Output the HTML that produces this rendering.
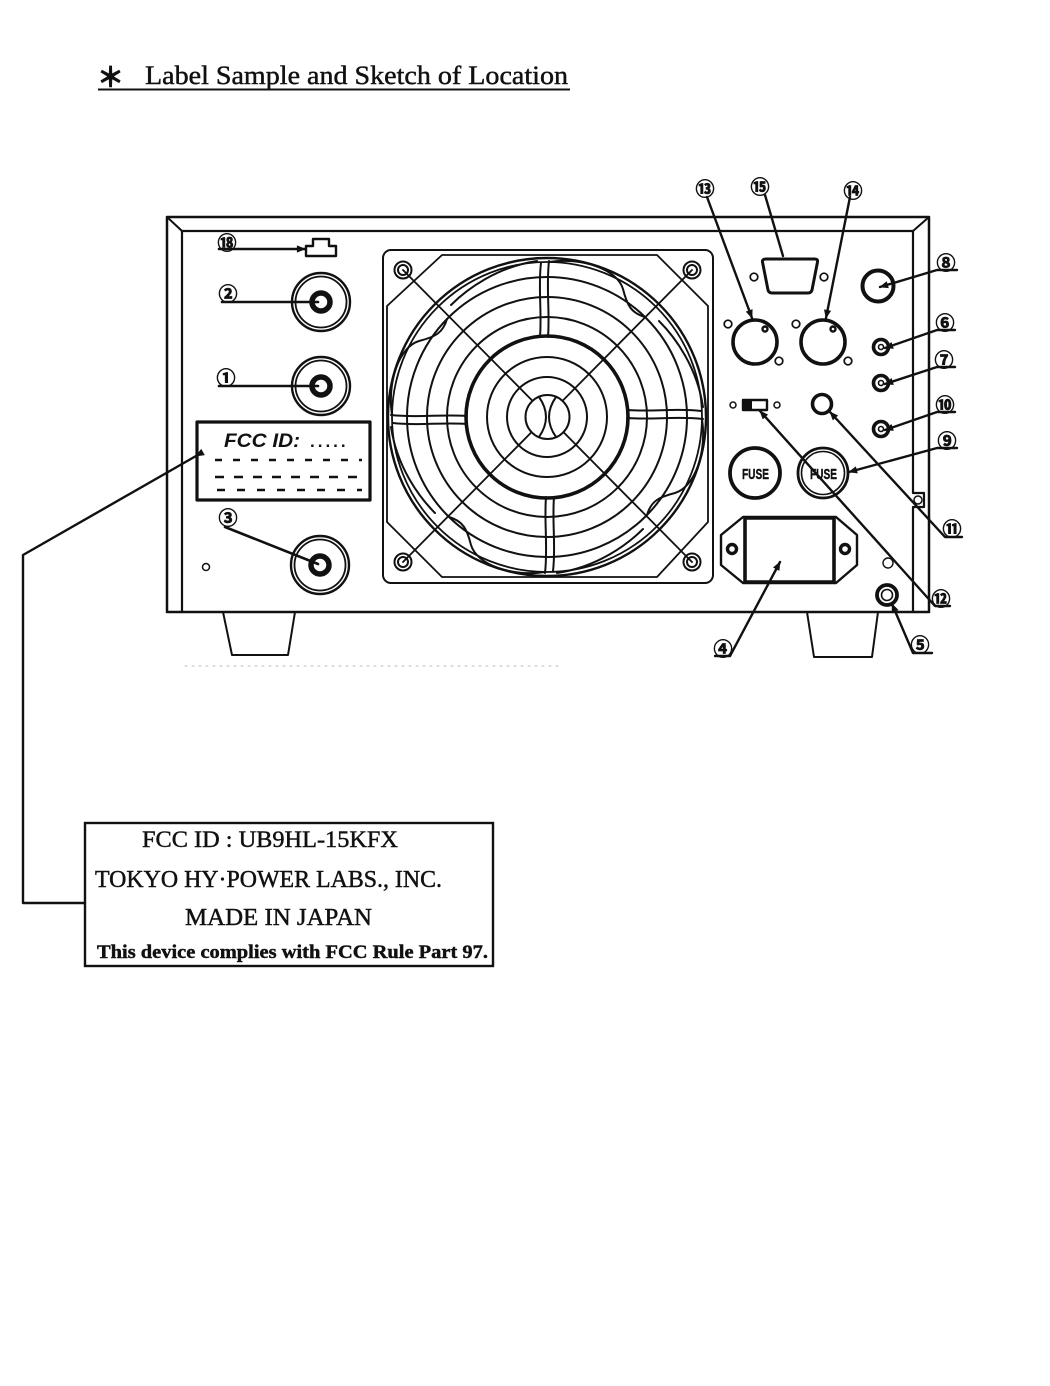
<!DOCTYPE html>
<html><head><meta charset="utf-8">
<style>
html,body{margin:0;padding:0;background:#fff;}
svg{display:block;}
.n{font-family:"Noto Sans CJK JP","DejaVu Sans",sans-serif;font-size:19px;font-weight:bold;text-anchor:middle;dominant-baseline:central;fill:#111;stroke:#111;stroke-width:0.7;}
.s{font-family:"Liberation Serif",serif;fill:#111;stroke:#111;stroke-width:0.45;}
</style></head>
<body>
<svg width="1050" height="1386" viewBox="0 0 1050 1386" xmlns="http://www.w3.org/2000/svg">
<defs>
<marker id="a" viewBox="0 0 10 10" refX="9" refY="5" markerWidth="11" markerHeight="9" markerUnits="userSpaceOnUse" orient="auto"><path d="M0,1 L10,5 L0,9 Z" fill="#111"/></marker>
</defs>
<rect width="1050" height="1386" fill="#fff"/>

<!-- Title -->
<text x="97" y="87" font-family="'Noto Sans CJK JP',sans-serif" font-size="27" font-weight="bold" fill="#111" stroke="#111" stroke-width="0.8">＊</text>
<text class="s" x="145" y="84" font-size="26" textLength="423" lengthAdjust="spacingAndGlyphs">Label Sample and Sketch of Location</text>
<line x1="98" y1="89.5" x2="570" y2="89.5" stroke="#111" stroke-width="2"/>

<g fill="none" stroke="#111" stroke-linecap="round" stroke-linejoin="round">
<!-- Chassis -->
<path d="M167,217 H929 V612 H167 Z" stroke-width="2.5"/>
<path d="M182,612 V231 H913 V493 H924 V507 H913 V612" stroke-width="2.2"/>
<line x1="167" y1="217" x2="182" y2="231" stroke-width="2"/>
<line x1="929" y1="217" x2="913" y2="231" stroke-width="2"/>
<circle cx="918" cy="500" r="4" stroke-width="1.5"/>
<!-- feet -->
<path d="M223,612 L232,655 H288 L295,612" stroke-width="2"/>
<path d="M807,612 L814,657 H872 L878,612" stroke-width="2"/>
<line x1="185" y1="666" x2="560" y2="666" stroke="#bbb" stroke-width="1" stroke-dasharray="2,5"/>

<!-- Left panel -->
<path d="M306,256 V246 H313 V239 H329 V246 H336 V256 Z" stroke-width="2.4"/>
<line x1="219" y1="249" x2="305" y2="249" stroke-width="2.6" marker-end="url(#a)"/>
<!-- 2 -->
<circle cx="321" cy="302" r="29" stroke-width="2.4"/>
<circle cx="321" cy="302" r="25.5" stroke-width="1.8"/>
<circle cx="321" cy="302" r="9" stroke-width="5.5"/>
<line x1="222" y1="302" x2="318" y2="302" stroke-width="2.6"/>
<!-- 1 -->
<circle cx="321" cy="386" r="29" stroke-width="2.4"/>
<circle cx="321" cy="386" r="25.5" stroke-width="1.8"/>
<circle cx="321" cy="386" r="9" stroke-width="5.5"/>
<line x1="219" y1="386" x2="318" y2="386" stroke-width="2.6"/>
<!-- 3 -->
<circle cx="320" cy="565" r="29" stroke-width="2.4"/>
<circle cx="320" cy="565" r="25.5" stroke-width="1.8"/>
<circle cx="320" cy="565" r="9" stroke-width="5.5"/>
<line x1="225" y1="527" x2="318" y2="564" stroke-width="2.6"/>
<circle cx="206" cy="567" r="3.5" stroke-width="1.5"/>
<!-- FCC label sample -->
<rect x="197" y="422" width="173" height="78" stroke-width="3.2"/>
<g stroke-width="2.4" stroke-linecap="butt">
<line x1="215" y1="460" x2="362" y2="460" stroke-dasharray="7,11"/>
<line x1="215" y1="477" x2="362" y2="477" stroke-dasharray="9,10"/>
<line x1="217" y1="490" x2="362" y2="490" stroke-dasharray="8,12"/>
</g>
<!-- callout to bottom label -->
<path d="M196,456 L23,555 V903 H85" stroke-width="2.4" marker-start="url(#a)"/>

<!-- Fan -->
<rect x="383" y="250" width="330" height="333" rx="8" stroke-width="2"/>
<polygon points="442,255 657,255 708,306 708,522 657,577 442,577 387,522 387,306" stroke-width="1.8"/>
<g stroke-width="2">
<circle cx="403" cy="270" r="8.5"/><circle cx="403" cy="270" r="5"/>
<circle cx="692" cy="270" r="8.5"/><circle cx="692" cy="270" r="5"/>
<circle cx="403" cy="562" r="8.5"/><circle cx="403" cy="562" r="5"/>
<circle cx="692" cy="562" r="8.5"/><circle cx="692" cy="562" r="5"/>
</g>
<g transform="translate(547,417)">
<circle r="159" stroke-width="2.4"/>
<circle r="155" stroke-width="1.8"/>
<circle r="140" stroke-width="2"/>
<circle r="120" stroke-width="2"/>
<circle r="100" stroke-width="2"/>
<circle r="81" stroke-width="3.6"/>
<circle r="60" stroke-width="2"/>
<circle r="40" stroke-width="2"/>
<g id="bl" stroke-width="2">
<path d="M-7,-80 C-5,-105 -9,-130 -6,-154"/>
<path d="M1,-80 C3,-105 -1,-130 2,-156"/>
<path d="M2,-155 C35,-160 70,-148 76,-128 C80,-112 84,-104 98,-100"/>
<path d="M-96,-112 C-80,-128 -50,-150 -10,-156"/>
</g>
<use href="#bl" transform="rotate(90)"/>
<use href="#bl" transform="rotate(180)"/>
<use href="#bl" transform="rotate(270)"/>
</g>
<line x1="403" y1="270" x2="692" y2="562" stroke-width="1.8"/>
<line x1="692" y1="270" x2="403" y2="562" stroke-width="1.8"/>
<circle cx="547.5" cy="417" r="22" fill="#fff" stroke-width="2"/>
<path d="M539,397 Q553,417 539,437" stroke-width="2"/>
<path d="M556,397 Q542,417 556,437" stroke-width="2"/>

<!-- Right panel -->
<path d="M766,259 H815 Q818,259 817.5,262 L812,290 Q811,293 808,293 H772 Q769,293 768,290 L762.5,262 Q762,259 766,259 Z" stroke-width="3"/>
<circle cx="754" cy="277" r="3.8" stroke-width="1.7"/>
<circle cx="824" cy="277" r="3.8" stroke-width="1.7"/>
<!-- 13 -->
<circle cx="755" cy="342" r="22" stroke-width="3.6"/>
<circle cx="765" cy="329" r="2.5" stroke-width="2.4"/>
<circle cx="728" cy="324" r="3.8" stroke-width="1.7"/>
<circle cx="779" cy="361" r="3.8" stroke-width="1.7"/>
<!-- 14 -->
<circle cx="823" cy="342" r="22" stroke-width="3.6"/>
<circle cx="833" cy="329" r="2.5" stroke-width="2.4"/>
<circle cx="796" cy="324" r="3.8" stroke-width="1.7"/>
<circle cx="848" cy="361" r="3.8" stroke-width="1.7"/>
<!-- 8 -->
<circle cx="878" cy="286" r="15.5" stroke-width="4"/>
<!-- 6,7,10 -->
<circle cx="881" cy="347" r="7.5" stroke-width="3.6"/><circle cx="881" cy="347" r="2.5" stroke-width="1.6"/>
<circle cx="881" cy="383" r="7.5" stroke-width="3.6"/><circle cx="881" cy="383" r="2.5" stroke-width="1.6"/>
<circle cx="881" cy="429" r="7.5" stroke-width="3.6"/><circle cx="881" cy="429" r="2.5" stroke-width="1.6"/>
<!-- switch -->
<rect x="743" y="400" width="24" height="10" stroke-width="2.4"/>
<rect x="743" y="400" width="9" height="10" fill="#111" stroke="none"/>
<circle cx="733" cy="405" r="3" stroke-width="1.5"/>
<circle cx="777" cy="405" r="3" stroke-width="1.5"/>
<!-- 11 target -->
<circle cx="822" cy="404" r="9.5" stroke-width="3.6"/>
<!-- fuses -->
<circle cx="755" cy="473" r="25" stroke-width="3.8"/>
<circle cx="823" cy="473" r="25" stroke-width="2.8"/>
<circle cx="823" cy="473" r="21.5" stroke-width="1.6"/>
<!-- 4 inlet -->
<polygon points="743,517 836,517 857,535 857,565 836,583 743,583 721,565 721,535" stroke-width="2.4"/>
<rect x="745" y="518" width="89" height="64" stroke-width="3.6"/>
<circle cx="732" cy="549" r="4.5" stroke-width="3.4"/>
<circle cx="845" cy="549" r="4.5" stroke-width="3.4"/>
<!-- 5 -->
<circle cx="887" cy="595" r="10" stroke-width="3.8"/>
<circle cx="887" cy="595" r="5.5" stroke-width="1.6"/>
<circle cx="888" cy="563" r="5" stroke-width="1.4"/>

<!-- leaders right -->
<g stroke-width="2.4">
<line x1="707" y1="197" x2="752" y2="318" marker-end="url(#a)"/>
<line x1="765" y1="195" x2="783" y2="256"/>
<line x1="850" y1="197" x2="826" y2="318" marker-end="url(#a)"/>
<path d="M957,270 H937 L880,287" marker-end="url(#a)"/>
<path d="M955,330 H937 L885,348" marker-end="url(#a)"/>
<path d="M955,367 H937 L885,384" marker-end="url(#a)"/>
<path d="M955,412 H937 L885,430" marker-end="url(#a)"/>
<path d="M957,448 H937 L849,472" marker-end="url(#a)"/>
<path d="M962,537 H945 L830,412" marker-end="url(#a)"/>
<path d="M950,606 H935 L760,411" marker-end="url(#a)"/>
<path d="M715,656 H730 L780,562" marker-end="url(#a)"/>
<path d="M932,653 H913 L892,604" marker-end="url(#a)"/>
</g>
</g>

<!-- FCC sample text -->
<text x="224" y="447" font-family="'Liberation Sans',sans-serif" font-style="italic" font-weight="bold" font-size="19" fill="#111" textLength="76" lengthAdjust="spacingAndGlyphs">FCC ID:</text>
<text x="310" y="447" font-family="'Liberation Sans',sans-serif" font-weight="bold" font-size="17" fill="#111" letter-spacing="3">.....</text>

<!-- FUSE text -->
<text x="742" y="479" font-family="'Liberation Sans Narrow','Liberation Sans',sans-serif" font-weight="bold" font-size="15" fill="#111" stroke="#111" stroke-width="0.4" textLength="27" lengthAdjust="spacingAndGlyphs">FUSE</text>
<text x="810" y="479" font-family="'Liberation Sans Narrow','Liberation Sans',sans-serif" font-weight="bold" font-size="15" fill="#111" stroke="#111" stroke-width="0.4" textLength="27" lengthAdjust="spacingAndGlyphs">FUSE</text>

<!-- circled numbers -->
<text class="n" x="227" y="242">⑱</text>
<text class="n" x="228" y="293">②</text>
<text class="n" x="226" y="377">①</text>
<text class="n" x="228" y="517">③</text>
<text class="n" x="705" y="188">⑬</text>
<text class="n" x="760" y="186">⑮</text>
<text class="n" x="853" y="190">⑭</text>
<text class="n" x="946" y="262">⑧</text>
<text class="n" x="945" y="322">⑥</text>
<text class="n" x="944" y="359">⑦</text>
<text class="n" x="945" y="404">⑩</text>
<text class="n" x="947" y="440">⑨</text>
<text class="n" x="952" y="528">⑪</text>
<text class="n" x="941" y="598">⑫</text>
<text class="n" x="920" y="644">⑤</text>
<text class="n" x="723" y="648">④</text>

<!-- Bottom label -->
<rect x="85" y="823" width="408" height="143" fill="none" stroke="#111" stroke-width="2.4"/>
<text class="s" x="142" y="847" font-size="23" textLength="256" lengthAdjust="spacingAndGlyphs">FCC ID : UB9HL-15KFX</text>
<text class="s" x="95" y="887" font-size="24" textLength="347" lengthAdjust="spacingAndGlyphs">TOKYO HY·POWER LABS., INC.</text>
<text class="s" x="185" y="925" font-size="24" textLength="187" lengthAdjust="spacingAndGlyphs">MADE IN JAPAN</text>
<text class="s" x="97" y="958" font-size="19" font-weight="bold" textLength="391" lengthAdjust="spacingAndGlyphs">This device complies with FCC Rule Part 97.</text>
</svg>
</body></html>
